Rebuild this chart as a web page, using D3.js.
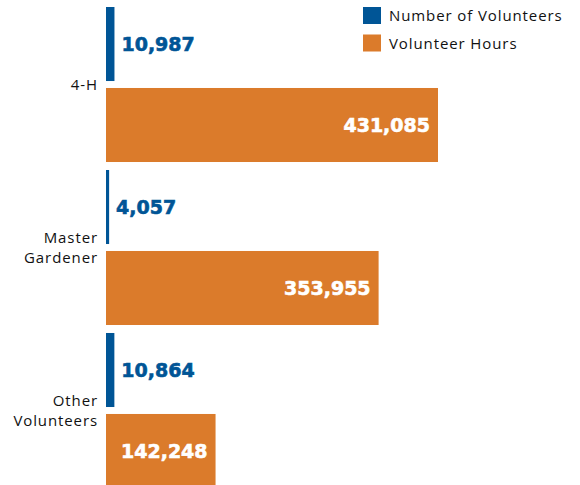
<!DOCTYPE html>
<html>
<head>
<meta charset="utf-8">
<script src="https://cdn.jsdelivr.net/npm/d3@7"></script>
<style>
  body { margin: 0; background: #fff; }
  svg { display: block; }
</style>
</head>
<body>
<svg id="chart" width="580" height="485"></svg>
<script>
var categories = [["4-H"], ["Master", "Gardener"], ["Other", "Volunteers"]];
var seriesNames = ["Number of Volunteers", "Volunteer Hours"];
var volunteers = [10987, 4057, 10864];
var hours = [431085, 353955, 142248];
var colors = ["#005596", "#db7b2b"];

var svg = d3.select("#chart");
var fmt = d3.format(",");
var catKeys = categories.map(function(c) { return c.join(" "); });

var rows = catKeys.map(function(k, i) {
  return { cat: k, lines: categories[i], values: [volunteers[i], hours[i]] };
});

var x = d3.scaleLinear()
    .domain([0, d3.max(hours)])
    .range([106, 438]);

var y0 = d3.scaleBand()
    .domain(catKeys)
    .range([7, 488])
    .paddingInner(0.049);

var y1 = d3.scaleBand()
    .domain([0, 1])
    .range([0, y0.bandwidth()])
    .paddingInner(0.086);

var group = svg.selectAll(".group")
  .data(rows)
  .enter().append("g")
    .attr("class", "group")
    .attr("transform", function(d) { return "translate(0," + y0(d.cat) + ")"; });

/* bars */
group.selectAll("rect")
  .data(function(d) { return d.values.map(function(v, i) { return { v: v, s: i }; }); })
  .enter().append("rect")
    .attr("x", x(0))
    .attr("y", function(d) { return y1(d.s); })
    .attr("width", function(d) { return x(d.v) - x(0); })
    .attr("height", y1.bandwidth())
    .attr("fill", function(d) { return colors[d.s]; });

/* value labels */
group.selectAll(".val")
  .data(function(d) { return d.values.map(function(v, i) { return { v: v, s: i }; }); })
  .enter().append("text")
    .attr("class", "val")
    .attr("x", function(d) { return d.s === 0 ? x(d.v) + 7 : x(d.v) - 8; })
    .attr("y", function(d) { return y1(d.s) + y1.bandwidth() / 2; })
    .attr("dy", "0.36em")
    .attr("text-anchor", function(d) { return d.s === 0 ? "start" : "end"; })
    .attr("fill", function(d) { return d.s === 0 ? colors[0] : "#fff"; })
    .attr("stroke", function(d) { return d.s === 0 ? colors[0] : "#fff"; })
    .attr("stroke-width", 0.6)
    .style("font", "bold 19px 'DejaVu Sans', sans-serif")
    .text(function(d) { return fmt(d.v); });

/* category labels */
var lab = group.append("text")
    .attr("x", 97)
    .attr("y", function(d) { return y0.bandwidth() / 2 - (d.lines.length - 1) * 10; })
    .attr("text-anchor", "end")
    .attr("fill", "#111")
    .style("font", "500 15px 'Open Sans', sans-serif")
    .style("letter-spacing", "0.9px");

lab.selectAll("tspan")
  .data(function(d) { return d.lines; })
  .enter().append("tspan")
    .attr("x", 98)
    .attr("dy", function(d, i) { return i === 0 ? "0.35em" : "20"; })
    .text(function(d) { return d; });

/* legend */
var legend = svg.selectAll(".legend")
  .data(seriesNames)
  .enter().append("g")
    .attr("class", "legend")
    .attr("transform", function(d, i) { return "translate(363," + (7 + i * 27.5) + ")"; });

legend.append("rect")
    .attr("width", 18)
    .attr("height", 17)
    .attr("fill", function(d, i) { return colors[i]; });

legend.append("text")
    .attr("x", 26)
    .attr("y", 9)
    .attr("dy", "0.35em")
    .attr("fill", "#111")
    .style("font", "500 15px 'Open Sans', sans-serif")
    .style("letter-spacing", "0.9px")
    .text(function(d) { return d; });
</script>
</body>
</html>
